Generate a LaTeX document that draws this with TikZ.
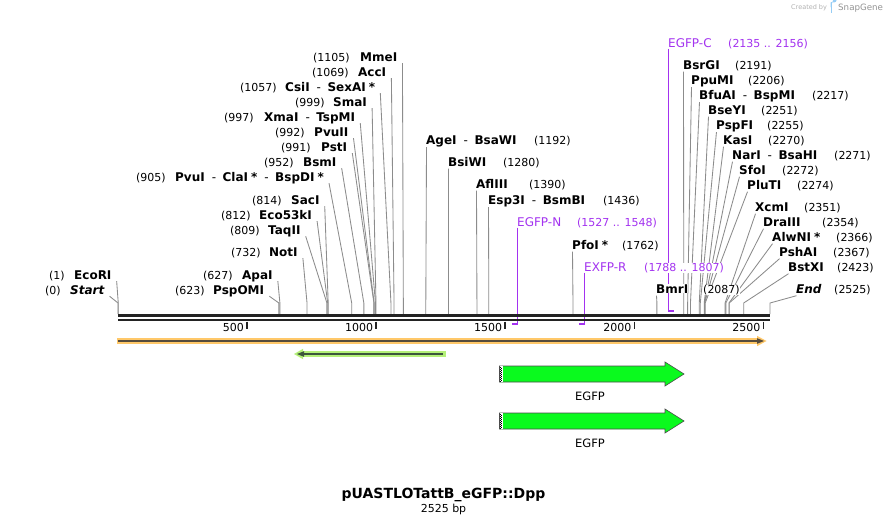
\documentclass[tikz,border=0pt]{standalone}
\usepackage{fontspec}
\setmainfont{DejaVu Sans}
\pgfdeclarelayer{bg}
\pgfsetlayers{bg,main}
\definecolor{cutgray}{RGB}{140,140,140}
\definecolor{primerc}{RGB}{163,50,240}
\definecolor{bbone}{RGB}{35,35,35}
\definecolor{orband}{RGB}{255,200,105}
\definecolor{ordark}{RGB}{85,75,60}
\definecolor{grband}{RGB}{180,240,120}
\definecolor{grdark}{RGB}{60,85,60}
\definecolor{egfpc}{RGB}{10,250,30}
\definecolor{logoblue}{RGB}{150,205,245}
\newcommand\dsh{\hspace{7pt}\textmd{-}\hspace{6.5pt}}
\newcommand\sx{\hspace{3pt}*}
\tikzset{
  numtxt/.style={inner sep=0pt, fill=white, anchor=base west, font=\fontsize{11}{13}\selectfont},
  enztxt/.style={inner sep=0pt, fill=white, anchor=base west, font=\fontsize{12}{14}\selectfont\bfseries},
  prtxt/.style={inner sep=0pt, fill=white, anchor=base west, font=\fontsize{12}{14}\selectfont, text=primerc},
  prnum/.style={inner sep=0pt, fill=white, anchor=base west, font=\fontsize{11}{13}\selectfont, text=primerc},
  cutline/.style={draw=cutgray, line width=0.85pt},
  prline/.style={draw=primerc, line width=1.4pt},
  ticktxt/.style={inner sep=0pt, anchor=base east, font=\fontsize{11}{13}\selectfont},
  tickline/.style={draw=bbone, line width=1.8pt},
  featlbl/.style={inner sep=0pt, anchor=base, font=\fontsize{11.5}{13}\selectfont},
}
\newcommand\lenz[7]{%
  \node[numtxt] (#1n) at (#3,#2+4.2) {#4};
  \node[enztxt] (#1) at (#5,#2+4.2) {#6};
  \coordinate (#1k) at ({118+#7*0.25822},303);
  \coordinate (#1s) at ({118+#7*0.25822},314);
  \begin{pgfonlayer}{bg}
  \draw[cutline] ([shift={(5pt,-2pt)}]#1.base east) -- (#1k) -- (#1s);
  \end{pgfonlayer}
}
\newcommand\renz[7]{%
  \node[enztxt] (#1) at (#3,#2+4.2) {#4};
  \node[numtxt] (#1n) at (#5,#2+4.2) {#6};
  \coordinate (#1k) at ({118+#7*0.25822},303);
  \coordinate (#1s) at ({118+#7*0.25822},314);
  \begin{pgfonlayer}{bg}
  \draw[cutline] ([shift={(0.5pt,-2.5pt)}]#1.base west) -- (#1k) -- (#1s);
  \end{pgfonlayer}
}
\begin{document}
\begin{tikzpicture}[x=1pt,y=-1pt]
\begin{pgfonlayer}{bg}
\fill[white] (0,0) rectangle (888,524);
\end{pgfonlayer}
\useasboundingbox (0,0) rectangle (888,524);

% ---------- left group ----------
\lenz{mme}{57}{313}{(1105)}{360}{MmeI}{1105}
\lenz{acc}{72}{312}{(1069)}{358}{AccI}{1069}
\lenz{csi}{87}{240}{(1057)}{285}{CsiI\dsh SexAI\sx}{1057}
\lenz{sma}{102}{295}{(999)}{333}{SmaI}{999}
\lenz{xma}{117}{224}{(997)}{264}{XmaI\dsh TspMI}{997}
\lenz{pvuii}{132}{275}{(992)}{314}{PvuII}{992}
\lenz{pst}{147}{281}{(991)}{321}{PstI}{991}
\lenz{bsm}{162}{264}{(952)}{303}{BsmI}{952}
\lenz{pvui}{177}{136}{(905)}{175}{PvuI\dsh ClaI\sx\dsh BspDI\sx}{905}
\lenz{sac}{200}{252}{(814)}{291}{SacI}{814}
\lenz{ecofs}{215}{221}{(812)}{259}{Eco53kI}{812}
\lenz{taq}{230}{230}{(809)}{268}{TaqII}{809}
\lenz{noti}{252}{231}{(732)}{269}{NotI}{732}
\lenz{apa}{275}{203}{(627)}{242}{ApaI}{627}
\lenz{pspo}{290}{175}{(623)}{213}{PspOMI}{623}
\lenz{ecori}{275}{49}{(1)}{74}{EcoRI}{1}
\lenz{start}{290}{45}{(0)}{70}{\itshape Start}{0}

% ---------- middle / right group ----------
\renz{age}{140}{426}{AgeI\dsh BsaWI}{534}{(1192)}{1192}
\renz{bsiw}{162}{448}{BsiWI}{503}{(1280)}{1280}
\renz{afl}{184}{476}{AflIII}{529}{(1390)}{1390}
\renz{esp}{200}{488}{Esp3I\dsh BsmBI}{603}{(1436)}{1436}
\renz{pfo}{245}{572}{PfoI\sx}{622}{(1762)}{1762}
\renz{bmr}{289}{656}{BmrI}{703}{(2087)}{2087}
\renz{bsrg}{65}{683}{BsrGI}{735}{(2191)}{2191}
\renz{ppu}{80}{691}{PpuMI}{748}{(2206)}{2206}
\renz{bfu}{95}{699}{BfuAI\dsh BspMI}{812}{(2217)}{2217}
\renz{bsey}{110}{708}{BseYI}{761}{(2251)}{2251}
\renz{pspf}{125}{716}{PspFI}{767}{(2255)}{2255}
\renz{kas}{140}{723}{KasI}{768}{(2270)}{2270}
\renz{nar}{155}{732}{NarI\dsh BsaHI}{834}{(2271)}{2271}
\renz{sfo}{170}{739}{SfoI}{782}{(2272)}{2272}
\renz{plut}{185}{747}{PluTI}{797}{(2274)}{2274}
\renz{xcm}{207}{755}{XcmI}{804}{(2351)}{2351}
\renz{dra}{222}{763}{DraIII}{822}{(2354)}{2354}
\renz{alw}{237}{772}{AlwNI\sx}{836}{(2366)}{2366}
\renz{psha}{252}{779}{PshAI}{833}{(2367)}{2367}
\renz{bstx}{267}{788}{BstXI}{837}{(2423)}{2423}
\renz{endp}{289}{796}{\itshape End}{834}{(2525)}{2525}

% ---------- primers ----------
\node[prtxt] (egfpn) at (517,226.2) {EGFP-N};
\node[prnum] (egfpnn) at (577,226.2) {(1527 .. 1548)};
\coordinate (egfpnk) at (517.6,324);
\coordinate (egfpns) at (512,324);
\node[prtxt] (exfpr) at (584,271.2) {EXFP-R};
\node[prnum] (exfprn) at (644,271.2) {(1788 .. 1807)};
\coordinate (exfprk) at (584.6,324);
\coordinate (exfprs) at (579,324);
\node[prtxt] (egfpc) at (668,47.2) {EGFP-C};
\node[prnum] (egfpcn) at (728,47.2) {(2135 .. 2156)};
\coordinate (egfpck) at (668.6,311);
\coordinate (egfpcs) at (674,311);
\begin{pgfonlayer}{bg}
\draw[prline] ([shift={(0.6pt,-1.5pt)}]egfpn.base west) -- (egfpnk) -- (egfpns);
\draw[prline] ([shift={(0.6pt,-1.5pt)}]exfpr.base west) -- (exfprk) -- (exfprs);
\draw[prline] ([shift={(0.6pt,-1.5pt)}]egfpc.base west) -- (egfpck) -- (egfpcs);
\end{pgfonlayer}

% ---------- backbone ----------
\draw[bbone, line width=2.5pt] (118,315.5) -- (770,315.5);
\draw[bbone, line width=2.5pt] (118,319.8) -- (770,319.8);

% ticks
\foreach \v/\lab in {500/500,1000/1000,1500/1500,2000/2000,2500/2500}{
  \draw[tickline] ({118+\v*0.25822},321.5) -- ({118+\v*0.25822},329);
  \node[ticktxt] (tk\v) at ({118+\v*0.25822-3},331) {\lab};
}

% ---------- features ----------
% orange
\fill[orband] (117,337.8) rectangle (759,344.2);
\fill[orband] (757,335.8) -- (766.5,341) -- (757,346.2) -- cycle;
\draw[ordark, line width=1.8pt] (118,341) -- (759,341);
\fill[ordark] (757,338.2) -- (764,341) -- (757,343.8) -- cycle;
% green
\fill[grband] (300,350.8) rectangle (446,357.2);
\fill[grband] (303,348.8) -- (294,354) -- (303,359.2) -- cycle;
\draw[grdark, line width=1.8pt] (302,354) -- (443,354);
\fill[grdark] (304,351.2) -- (297,354) -- (304,356.8) -- cycle;

% EGFP arrows
\foreach \dy/\nm in {0/one,47/two}{
  \filldraw[fill=egfpc, draw=black!70, line width=0.6pt]
    (499.5,366+\dy) -- (665,366+\dy) -- (665,362+\dy) -- (684,374+\dy)
    -- (665,386+\dy) -- (665,382+\dy) -- (499.5,382+\dy) -- cycle;
  \fill[white] (499.6,366.4+\dy) rectangle (502.6,381.6+\dy);
  \draw[black, line width=0.9pt, dash pattern=on 1pt off 1pt] (500.2,366.5+\dy) -- (500.2,381.5+\dy);
  \draw[black, line width=0.9pt, dash pattern=on 1pt off 1pt, dash phase=1pt] (501.9,366.5+\dy) -- (501.9,381.5+\dy);
  \node[featlbl] (egfp\nm) at (590,400+\dy) {EGFP};
}

% ---------- title ----------
\node[inner sep=0pt, anchor=base, font=\fontsize{14}{16}\selectfont\bfseries] (title) at (443.5,498) {pUASTLOTattB\_eGFP::Dpp};
\node[inner sep=0pt, anchor=base, font=\fontsize{11}{13}\selectfont] (bp) at (443.5,512) {2525 bp};

% ---------- credit ----------
\node[inner sep=0pt, anchor=base west, font=\fontsize{6.5}{8}\selectfont, text=black!30] (cb) at (791,10) {Created by};
\fill[logoblue] (830.5,2.5) rectangle (832.3,13);
\fill[logoblue] (830.5,2.5) -- (834,2.5) arc[start angle=90, end angle=-90, radius=2.6] -- (830.5,7.7) -- cycle;
\node[inner sep=0pt, anchor=base west, font=\fontsize{8.7}{10}\selectfont, text=black!42] (sg) at (838,11) {SnapGene};
\end{tikzpicture}
\end{document}
